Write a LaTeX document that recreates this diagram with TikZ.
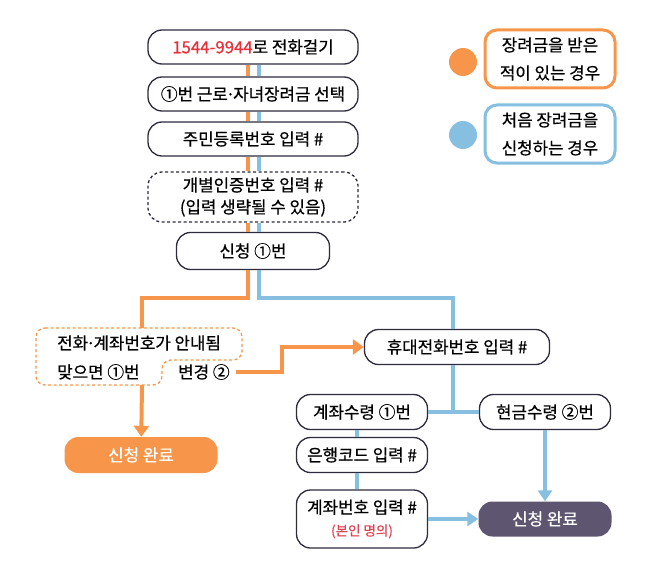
\documentclass[tikz,border=0pt]{standalone}
\usepackage{fontspec}
\setmainfont{Noto Sans CJK KR}[UprightFeatures={FakeBold=0.6}]
\usetikzlibrary{arrows.meta}
\usepackage{xcolor}
\definecolor{hjorange}{HTML}{F7964A}
\definecolor{hjblue}{HTML}{86BFE0}
\definecolor{hjdark}{HTML}{5E5570}
\definecolor{hjink}{HTML}{2E2B3F}
\definecolor{hjred}{HTML}{E8303A}
\definecolor{hjpink}{HTML}{E04555}
\newcommand{\middot}{\hspace{-0.12em}·\hspace{-0.12em}}

\begin{document}
\begin{tikzpicture}[
    x=1pt, y=-1pt,        % pixel grid, y downwards
    font=\fontsize{16.8}{22}\selectfont,
    stepbox/.style = {
        rectangle, rounded corners=14pt,
        minimum width = 210pt, minimum height = 34pt,
        draw = hjink, line width = 1.3pt, fill = white,
        align = center, inner sep = 2pt
    },
    smallbox/.style = {
        stepbox, minimum width = 131pt, minimum height = 35pt
    },
    donebox/.style = {
        rectangle, rounded corners=14pt,
        minimum width = 133pt, minimum height = 35pt,
        text = white, align = center
    },
    legendbox/.style = {
        rectangle, rounded corners=12pt,
        minimum width = 130pt, minimum height = 58pt,
        line width = 3pt, align = center,
        font = \fontsize{16.8}{28}\selectfont
    },
    dot/.style = {circle, minimum size = 28pt, inner sep = 0pt},
    oline/.style = {draw = hjorange, line width = 4pt},
    bline/.style = {draw = hjblue, line width = 4pt},
    otip/.style = {-{Triangle[width=15pt,length=11pt]}},
    btip/.style = {-{Triangle[width=14pt,length=11pt]}}
]
\useasboundingbox (0,0) rectangle (658,575);

% --- Legend ---
\node[dot, fill=hjorange] (dotold) at (463,62) {};
\node[legendbox, draw=hjorange] (keyold) at (550,59) {장려금을 받은\\적이 있는 경우};
\node[dot, fill=hjblue] (dotnew) at (463,135) {};
\node[legendbox, draw=hjblue] (keynew) at (550,134) {처음 장려금을\\신청하는 경우};

% --- Common steps ---
\node[stepbox] (dial)  at (253,47)  {\textcolor{hjred}{1544-9944}로 전화걸기};
\node[stepbox] (menu)  at (253,94)  {①번 근로\middot 자녀장려금 선택};
\node[stepbox] (resid) at (253,139) {주민등록번호 입력 \#};
\node[stepbox, dash pattern=on 3pt off 2.5pt, minimum height=50pt] (auth) at (253,197)
    {개별인증번호 입력 \#\\(입력 생략될 수 있음)};
\node[stepbox, minimum width=153pt, minimum height=37pt] (apply) at (253,251) {신청 ①번};

% --- Already received (orange) ---
\node[anchor=west, inner sep=0pt] (guide)  at (57,343)  {전화\middot 계좌번호가 안내됨};
\node[anchor=west, inner sep=0pt] (match)  at (57,372)  {맞으면 ①번};
\node[anchor=west, inner sep=0pt] (change) at (178,372) {변경 ②};
\draw[hjorange, line width=1.3pt, dash pattern=on 3pt off 2.5pt, rounded corners=9pt]
    (36,328) -- (242,328) -- (242,360) -- (162,360) -- (162,385) -- (36,385) -- cycle;
\coordinate (guidetop) at (142,328);
\coordinate (guidebot) at (142,385);
\node[donebox, fill=hjorange, minimum width=153pt, minimum height=36pt] (doneold) at (141,455) {신청 완료};

% --- First application (blue) ---
\node[stepbox, minimum width=185pt, minimum height=35pt] (mobile) at (457,347) {휴대전화번호 입력 \#};
\node[smallbox] (acct)  at (362,412) {계좌수령 ①번};
\node[smallbox] (cash)  at (545,412) {현금수령 ②번};
\node[smallbox] (bank)  at (362,455) {은행코드 입력 \#};
\node[smallbox, minimum height=58pt] (accno) at (362,519)
    {계좌번호 입력 \#\\{\fontsize{13.5}{16}\selectfont\color{hjpink}(본인 명의)}};
\node[donebox, fill=hjdark] (donenew) at (545,519) {신청 완료};

% --- Connectors ---
\foreach \a/\b in {dial/menu, menu/resid, resid/auth, auth/apply} {
    \draw[oline] ([xshift=-5.5pt]\a.south) -- ([xshift=-5.5pt]\b.north);
    \draw[bline] ([xshift=5.5pt]\a.south)  -- ([xshift=5.5pt]\b.north);
}
\draw[oline] ([xshift=-5.5pt]apply.south) -- ++(0,28) -| (guidetop);
\draw[bline] ([xshift=5.5pt]apply.south)  -- ++(0,28) -| ([xshift=-4pt]mobile.north);

\draw[oline, otip] (guidebot) -- (doneold);
\draw[oline, otip] ([xshift=6pt]change.east) -- ++(46,0) |- (mobile.west);

\draw[bline] ([xshift=-4pt]mobile.south) -- ([xshift=-4pt]mobile.south |- acct.east);
\draw[bline] (acct.east) -- (cash.west);
\draw[bline] ([xshift=-5pt]acct.south) -- ([xshift=-5pt]bank.north);
\draw[bline] ([xshift=-5pt]bank.south) -- ([xshift=-5pt]accno.north);
\draw[bline, btip] (accno.east) -- (donenew.west);
\draw[bline, btip] (cash.south) -- (donenew.north);

\end{tikzpicture}
\end{document}
